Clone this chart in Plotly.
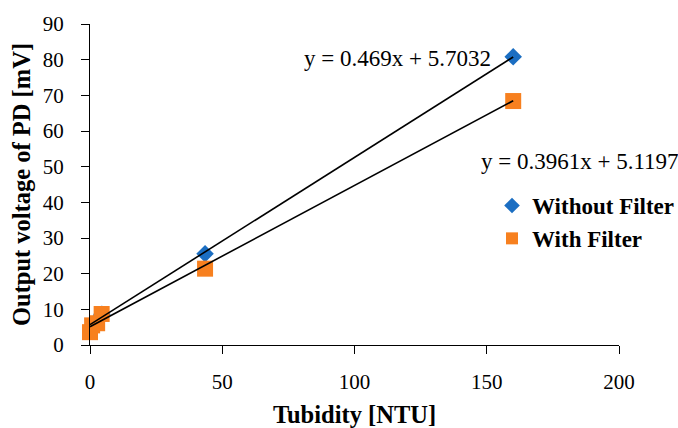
import plotly.graph_objects as go

# Data
x_without = [0.3, 1.5, 4.5, 43.5, 160.0]
y_without = [4.5, 6.0, 8.6, 25.6, 80.8]
x_with = [0.0, 0.8, 2.7, 4.4, 43.5, 160.0]
y_with = [3.6, 5.5, 6.1, 8.7, 21.4, 68.4]

# Trendline coefficients (slope, intercept) and range
fit_without = (0.469, 5.7032)
fit_with = (0.3961, 5.1197)
fit_x = [0.0, 160.0]

eq_without = "y = 0.469x + 5.7032"
eq_with = "y = 0.3961x + 5.1197"

x_ticks = [0, 50, 100, 150, 200]
y_ticks = [0, 10, 20, 30, 40, 50, 60, 70, 80, 90]

blue = "#1b6ec2"
orange = "#f7801f"
font_family = "Liberation Serif"

L, R, T, B = 90, 59, 24, 83
W, H = 678, 428
pw, ph = W - L - R, H - T - B

fig = go.Figure()

fig.add_trace(go.Scatter(
    x=x_without, y=y_without, mode="markers", name="Without Filter",
    marker=dict(symbol="diamond", size=13.5, color=blue),
    cliponaxis=False,
))
fig.add_trace(go.Scatter(
    x=x_with, y=y_with, mode="markers", name="With Filter",
    marker=dict(symbol="square", size=16, color=orange),
    cliponaxis=False,
))
fig.add_trace(go.Scatter(
    x=fit_x, y=[fit_without[0] * v + fit_without[1] for v in fit_x],
    mode="lines", line=dict(color="black", width=1.6), showlegend=False,
    hoverinfo="skip",
))
fig.add_trace(go.Scatter(
    x=fit_x, y=[fit_with[0] * v + fit_with[1] for v in fit_x],
    mode="lines", line=dict(color="black", width=1.6), showlegend=False,
    hoverinfo="skip",
))

fig.add_annotation(x=(397 - L) / pw, y=(H - B - 58) / ph, xref="x domain", yref="y domain",
                   xanchor="center", yanchor="middle",
                   text=eq_without, showarrow=False,
                   font=dict(size=23, color="black", family=font_family))
fig.add_annotation(x=(580 - L) / pw, y=(H - B - 161) / ph, xref="x domain", yref="y domain",
                   xanchor="center", yanchor="middle",
                   text=eq_with, showarrow=False,
                   font=dict(size=23, color="black", family=font_family))

fig.update_layout(
    width=W, height=H,
    margin=dict(l=L, r=R, t=T, b=B, autoexpand=False),
    paper_bgcolor="white", plot_bgcolor="white",
    font=dict(family=font_family, size=20, color="black"),
    legend=dict(x=(492 - L) / pw, y=(H - B - 184) / ph, xanchor="left", yanchor="top",
                font=dict(size=23, family=font_family, weight="bold"),
                bgcolor="rgba(0,0,0,0)", itemsizing="constant",
                tracegroupgap=0),
    showlegend=True,
)

fig.update_xaxes(
    range=[0, 200], tickvals=x_ticks, showgrid=False, zeroline=False,
    showline=True, linecolor="black", linewidth=1,
    ticks="outside", ticklen=8, tickcolor="black",
    ticklabelstandoff=10, automargin=False,
    tickfont=dict(size=21),
    title=dict(text="Tubidity [NTU]", font=dict(size=24.5, weight="bold"), standoff=29),
)
fig.update_yaxes(
    range=[0, 90], tickvals=y_ticks, showgrid=False, zeroline=False,
    showline=True, linecolor="black", linewidth=1,
    ticks="outside", ticklen=8, tickcolor="black",
    ticklabelstandoff=13, automargin=False,
    tickfont=dict(size=21),
    title=dict(text="Output voltage of PD [mV]", font=dict(size=24.5, weight="bold"), standoff=5),
)

fig.write_html("out.html")
